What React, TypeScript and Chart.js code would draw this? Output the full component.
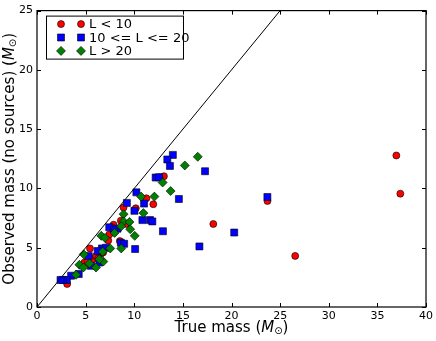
import React, { useEffect, useRef } from "react";
import { Chart, registerables } from "chart.js";
Chart.register(...registerables);

const xTicks = [0, 5, 10, 15, 20, 25, 30, 35, 40];
const yTicks = [0, 5, 10, 15, 20, 25];
const legendLabels = ["L < 10", "10 <= L <= 20", "L > 20"];
const xTitle = "True mass (";
const yTitle = "Observed mass (no sources) (";
const massSymbol = "M";
const sunSymbol = "\u2299";

const redPoints: [number, number][] = [
  [13.05, 11.03], [11.25, 9.17], [11.96, 8.67], [10.16, 8.33], [8.9, 8.39],
  [8.62, 7.28], [7.87, 6.94], [7.7, 6.72], [7.43, 6.11], [7.33, 5.61],
  [8.52, 5.56], [18.13, 7.0], [5.45, 4.94], [5.73, 4.03], [6.07, 4.31],
  [6.58, 4.5], [6.8, 4.6], [4.87, 3.75], [3.1, 1.94], [36.95, 12.78],
  [37.36, 9.56], [23.7, 8.94], [26.55, 4.31], [6.3, 4.1], [5.2, 3.9],
  [9.2, 7.0], [12.6, 10.95],
];
const bluePoints: [number, number][] = [
  [13.97, 12.83], [13.4, 12.44], [13.67, 11.9], [17.28, 11.45], [12.2, 10.92],
  [12.54, 10.94], [10.22, 9.67], [9.24, 8.78], [11.01, 8.72], [10.02, 8.11],
  [14.59, 9.11], [10.84, 7.33], [11.62, 7.33], [11.86, 7.22], [12.95, 6.39],
  [16.7, 5.11], [10.09, 4.89], [7.43, 6.72], [8.28, 6.61], [7.94, 6.53],
  [8.62, 5.42], [8.96, 5.33], [6.68, 4.94], [7.09, 5.0], [6.24, 4.72],
  [6.41, 3.75], [5.32, 4.31], [5.55, 3.47], [4.29, 2.78], [3.51, 2.64],
  [3.07, 2.28], [2.66, 2.28], [2.42, 2.28], [23.69, 9.28], [20.28, 6.28],
];
const greenPoints: [number, number][] = [
  [16.53, 12.67], [15.2, 11.94], [12.92, 10.5], [13.74, 9.78], [10.7, 9.31],
  [12.07, 9.31], [8.9, 7.83], [10.94, 7.92], [8.9, 7.22], [9.51, 7.17],
  [9.58, 6.56], [8.66, 6.81], [10.05, 6.0], [7.98, 6.25], [6.61, 6.0],
  [6.99, 5.83], [7.53, 4.94], [8.66, 4.94], [6.75, 4.67], [4.81, 4.44],
  [4.36, 3.56], [4.77, 3.33], [5.39, 3.67], [6.07, 3.33], [6.82, 3.83],
  [6.41, 4.03], [4.02, 2.72],
];
const linePoints: [number, number][] = [[0, 0], [25, 25]];

const RED = "#ff0000";
const BLUE = "#0000ff";
const GREEN = "#008000";
const FONT = "'DejaVu Sans', sans-serif";

function marker(ctx: CanvasRenderingContext2D, kind: string, x: number, y: number, color: string) {
  ctx.save();
  ctx.fillStyle = color;
  ctx.strokeStyle = "#000";
  ctx.lineWidth = 0.6;
  ctx.beginPath();
  if (kind === "circle") {
    ctx.arc(x, y, 3.5, 0, Math.PI * 2);
  } else if (kind === "rect") {
    ctx.rect(x - 3.5, y - 3.5, 7, 7);
  } else {
    ctx.moveTo(x, y - 4.5);
    ctx.lineTo(x + 4.5, y);
    ctx.lineTo(x, y + 4.5);
    ctx.lineTo(x - 4.5, y);
    ctx.closePath();
  }
  ctx.fill();
  ctx.stroke();
  ctx.restore();
}

function richTitle(ctx: CanvasRenderingContext2D, base: string, cx: number, cy: number, rotate: boolean) {
  const parts = [
    { t: base, f: "15px " + FONT, dy: 0 },
    { t: massSymbol, f: "italic 15px " + FONT, dy: 0 },
    { t: sunSymbol, f: "10px " + FONT, dy: 3 },
    { t: ")", f: "15px " + FONT, dy: 0 },
  ];
  ctx.save();
  let total = 0;
  const widths = parts.map((p) => {
    ctx.font = p.f;
    const w = ctx.measureText(p.t).width;
    total += w;
    return w;
  });
  ctx.translate(cx, cy);
  if (rotate) ctx.rotate(-Math.PI / 2);
  ctx.fillStyle = "#000";
  ctx.textBaseline = "middle";
  ctx.textAlign = "left";
  let x = -total / 2;
  parts.forEach((p, i) => {
    ctx.font = p.f;
    ctx.fillText(p.t, x, p.dy);
    x += widths[i];
  });
  ctx.restore();
}

const decor = {
  id: "decor",
  afterDraw(chart: any) {
    const ctx: CanvasRenderingContext2D = chart.ctx;
    const { left, right, top, bottom } = chart.chartArea;
    const xs = chart.scales.x;
    const ys = chart.scales.y;
    ctx.save();
    ctx.strokeStyle = "#000";
    ctx.lineWidth = 1;
    ctx.beginPath();
    xTicks.forEach((v) => {
      const p = Math.round(xs.getPixelForValue(v)) + 0.5;
      ctx.moveTo(p, bottom);
      ctx.lineTo(p, bottom - 4);
      ctx.moveTo(p, top);
      ctx.lineTo(p, top + 4);
    });
    yTicks.forEach((v) => {
      const p = Math.round(ys.getPixelForValue(v)) + 0.5;
      ctx.moveTo(left, p);
      ctx.lineTo(left + 4, p);
      ctx.moveTo(right, p);
      ctx.lineTo(right - 4, p);
    });
    ctx.stroke();
    ctx.lineWidth = 1.2;
    ctx.strokeRect(left, top, right - left, bottom - top);

    // axis titles
    richTitle(ctx, xTitle, (left + right) / 2, 328, false);
    richTitle(ctx, yTitle, 10, (top + bottom) / 2, true);

    // legend
    const bx = left + 9;
    const by = top + 5;
    const bw = 137;
    const bh = 43;
    ctx.fillStyle = "#fff";
    ctx.fillRect(bx, by, bw, bh);
    ctx.lineWidth = 1;
    ctx.strokeStyle = "#000";
    ctx.strokeRect(bx + 0.5, by + 0.5, bw, bh);
    const kinds = ["circle", "rect", "diamond"];
    const colors = [RED, BLUE, GREEN];
    ctx.font = "13px " + FONT;
    ctx.textBaseline = "middle";
    legendLabels.forEach((lab, i) => {
      const y = by + 8.5 + i * 13.4;
      marker(ctx, kinds[i], bx + 15, y, colors[i]);
      marker(ctx, kinds[i], bx + 35, y, colors[i]);
      ctx.fillStyle = "#000";
      ctx.fillText(lab, bx + 43, y + 1);
    });
    ctx.restore();
  },
};

export default function App() {
  const ref = useRef<HTMLCanvasElement | null>(null);
  useEffect(() => {
    document.body.style.margin = "0";
    const toXY = (a: [number, number][]) => a.map(([x, y]) => ({ x, y }));
    const chart = new Chart(ref.current as HTMLCanvasElement, {
      type: "scatter",
      data: {
        datasets: [
          {
            type: "line",
            data: toXY(linePoints),
            borderColor: "#000",
            borderWidth: 1,
            pointRadius: 0,
            fill: false,
            order: 0,
          } as any,
          {
            data: toXY(greenPoints),
            pointStyle: "rectRot",
            pointRadius: 4.5,
            backgroundColor: GREEN,
            borderColor: "#000",
            borderWidth: 0.6,
            order: 1,
          },
          {
            data: toXY(bluePoints),
            pointStyle: "rect",
            pointRadius: 4.95,
            backgroundColor: BLUE,
            borderColor: "#000",
            borderWidth: 0.6,
            order: 2,
          },
          {
            data: toXY(redPoints),
            pointStyle: "circle",
            pointRadius: 3.5,
            backgroundColor: RED,
            borderColor: "#000",
            borderWidth: 0.6,
            order: 3,
          },
        ],
      },
      options: {
        animation: false,
        responsive: true,
        maintainAspectRatio: false,
        layout: { padding: { top: 6, right: 7, left: 0, bottom: 0 } },
        plugins: { legend: { display: false }, tooltip: { enabled: false } },
        scales: {
          x: {
            type: "linear",
            min: 0,
            max: 40,
            ticks: { stepSize: 5, color: "#000", font: { family: FONT, size: 11 }, padding: 3, maxRotation: 0 },
            grid: { display: true, drawOnChartArea: false, drawTicks: false },
            border: { display: false },
            title: { display: false },
            afterFit: (s: any) => { s.height = 34; },
          },
          y: {
            type: "linear",
            min: 0,
            max: 25,
            ticks: { stepSize: 5, color: "#000", font: { family: FONT, size: 11 }, padding: 4 },
            grid: { display: true, drawOnChartArea: false, drawTicks: false },
            border: { display: false },
            title: { display: false },
            afterFit: (s: any) => { s.width = 37; },
          },
        },
      } as any,
      plugins: [decor],
    });
    return () => chart.destroy();
  }, []);
  return (
    <div style={{ position: "absolute", left: 0, top: 0, width: 436, height: 341 }}>
      <canvas ref={ref} />
    </div>
  );
}
